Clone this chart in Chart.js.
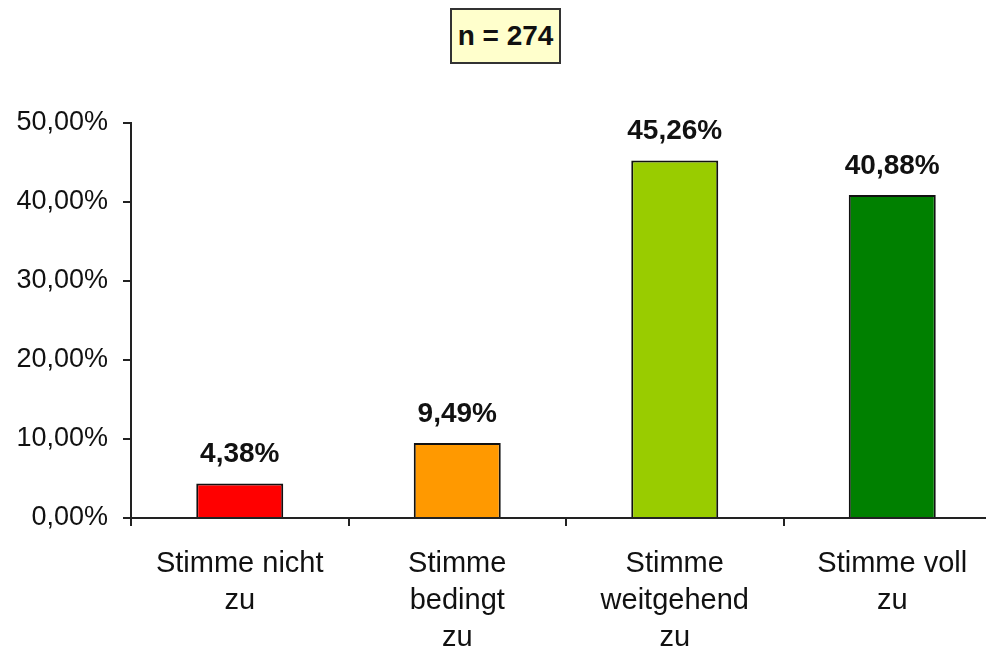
<!DOCTYPE html>
<html>
<head>
<meta charset="utf-8">
<script src="https://cdn.jsdelivr.net/npm/chart.js"></script>
<style>
  html, body { margin: 0; padding: 0; background: #fff; overflow: hidden; }
  #wrap { position: relative; width: 986px; height: 648px; overflow: hidden; }
  #n-box {
    position: absolute; left: 450px; top: 8px; width: 107px; height: 52px;
    background: #ffffcc; border: 2px solid #333;
    font: bold 28px "Liberation Sans", Arial, sans-serif; color: #111;
    display: flex; align-items: center; justify-content: center;
  }
</style>
</head>
<body>
<div id="wrap">
  <canvas id="bar-chart" width="1004" height="648" style="position:absolute;left:0;top:0;width:1004px;height:648px"></canvas>
  <div id="n-box">n = 274</div>
</div>
<script>
// categories + values
const categories = [
  ['Stimme nicht', 'zu'],
  ['Stimme', 'bedingt', 'zu'],
  ['Stimme', 'weitgehend', 'zu'],
  ['Stimme voll', 'zu']
];
const shares = [4.38, 9.49, 45.26, 40.88];
const barColors = ['#ff0000', '#ff9900', '#99cc00', '#008000'];
const yTicks = [0, 10, 20, 30, 40, 50];

const pct = v => v.toFixed(2).replace('.', ',') + '%';

// value labels above each bar
const valueLabels = {
  id: 'valueLabels',
  afterDatasetsDraw(chart) {
    const ctx = chart.ctx;
    const meta = chart.getDatasetMeta(0);
    ctx.save();
    ctx.font = 'bold 28px "Liberation Sans", Arial, sans-serif';
    ctx.fillStyle = '#111';
    ctx.textAlign = 'center';
    ctx.textBaseline = 'alphabetic';
    meta.data.forEach((bar, i) => {
      ctx.fillText(pct(shares[i]), bar.x, bar.y - 21);
    });
    ctx.restore();
  }
};

const ctx = document.getElementById('bar-chart');

new Chart(ctx, {
  type: 'bar',
  data: {
    labels: categories,
    datasets: [{
      data: shares,
      backgroundColor: barColors,
      borderColor: '#111',
      borderWidth: 2,
      categoryPercentage: 1,
      barPercentage: 0.4
    }]
  },
  options: {
    responsive: false,
    animation: false,
    events: [],
    layout: { padding: { top: 123, right: 3, left: 0, bottom: 0 } },
    plugins: {
      legend: { display: false },
      tooltip: { enabled: false }
    },
    scales: {
      x: {
        grid: { drawOnChartArea: false, drawTicks: true, tickLength: 8, color: '#222', lineWidth: 2 },
        border: { display: true, color: '#222', width: 2 },
        ticks: {
          color: '#111',
          padding: 19,
          maxRotation: 0,
          autoSkip: false,
          font: { family: '"Liberation Sans", Arial, sans-serif', size: 29, lineHeight: 1.28 }
        },
        afterFit(scale) { scale.height = 130; }
      },
      y: {
        min: 0,
        max: 50,
        afterBuildTicks(scale) { scale.ticks = yTicks.map(v => ({ value: v })); },
        grid: { drawOnChartArea: false, drawTicks: true, tickLength: 8, color: '#222', lineWidth: 2 },
        border: { display: true, color: '#222', width: 2 },
        ticks: {
          color: '#111',
          padding: 15,
          callback: v => pct(v),
          font: { family: '"Liberation Sans", Arial, sans-serif', size: 27 }
        },
        afterFit(scale) { scale.width = 131; }
      }
    }
  },
  plugins: [valueLabels]
});
</script>
</body>
</html>
